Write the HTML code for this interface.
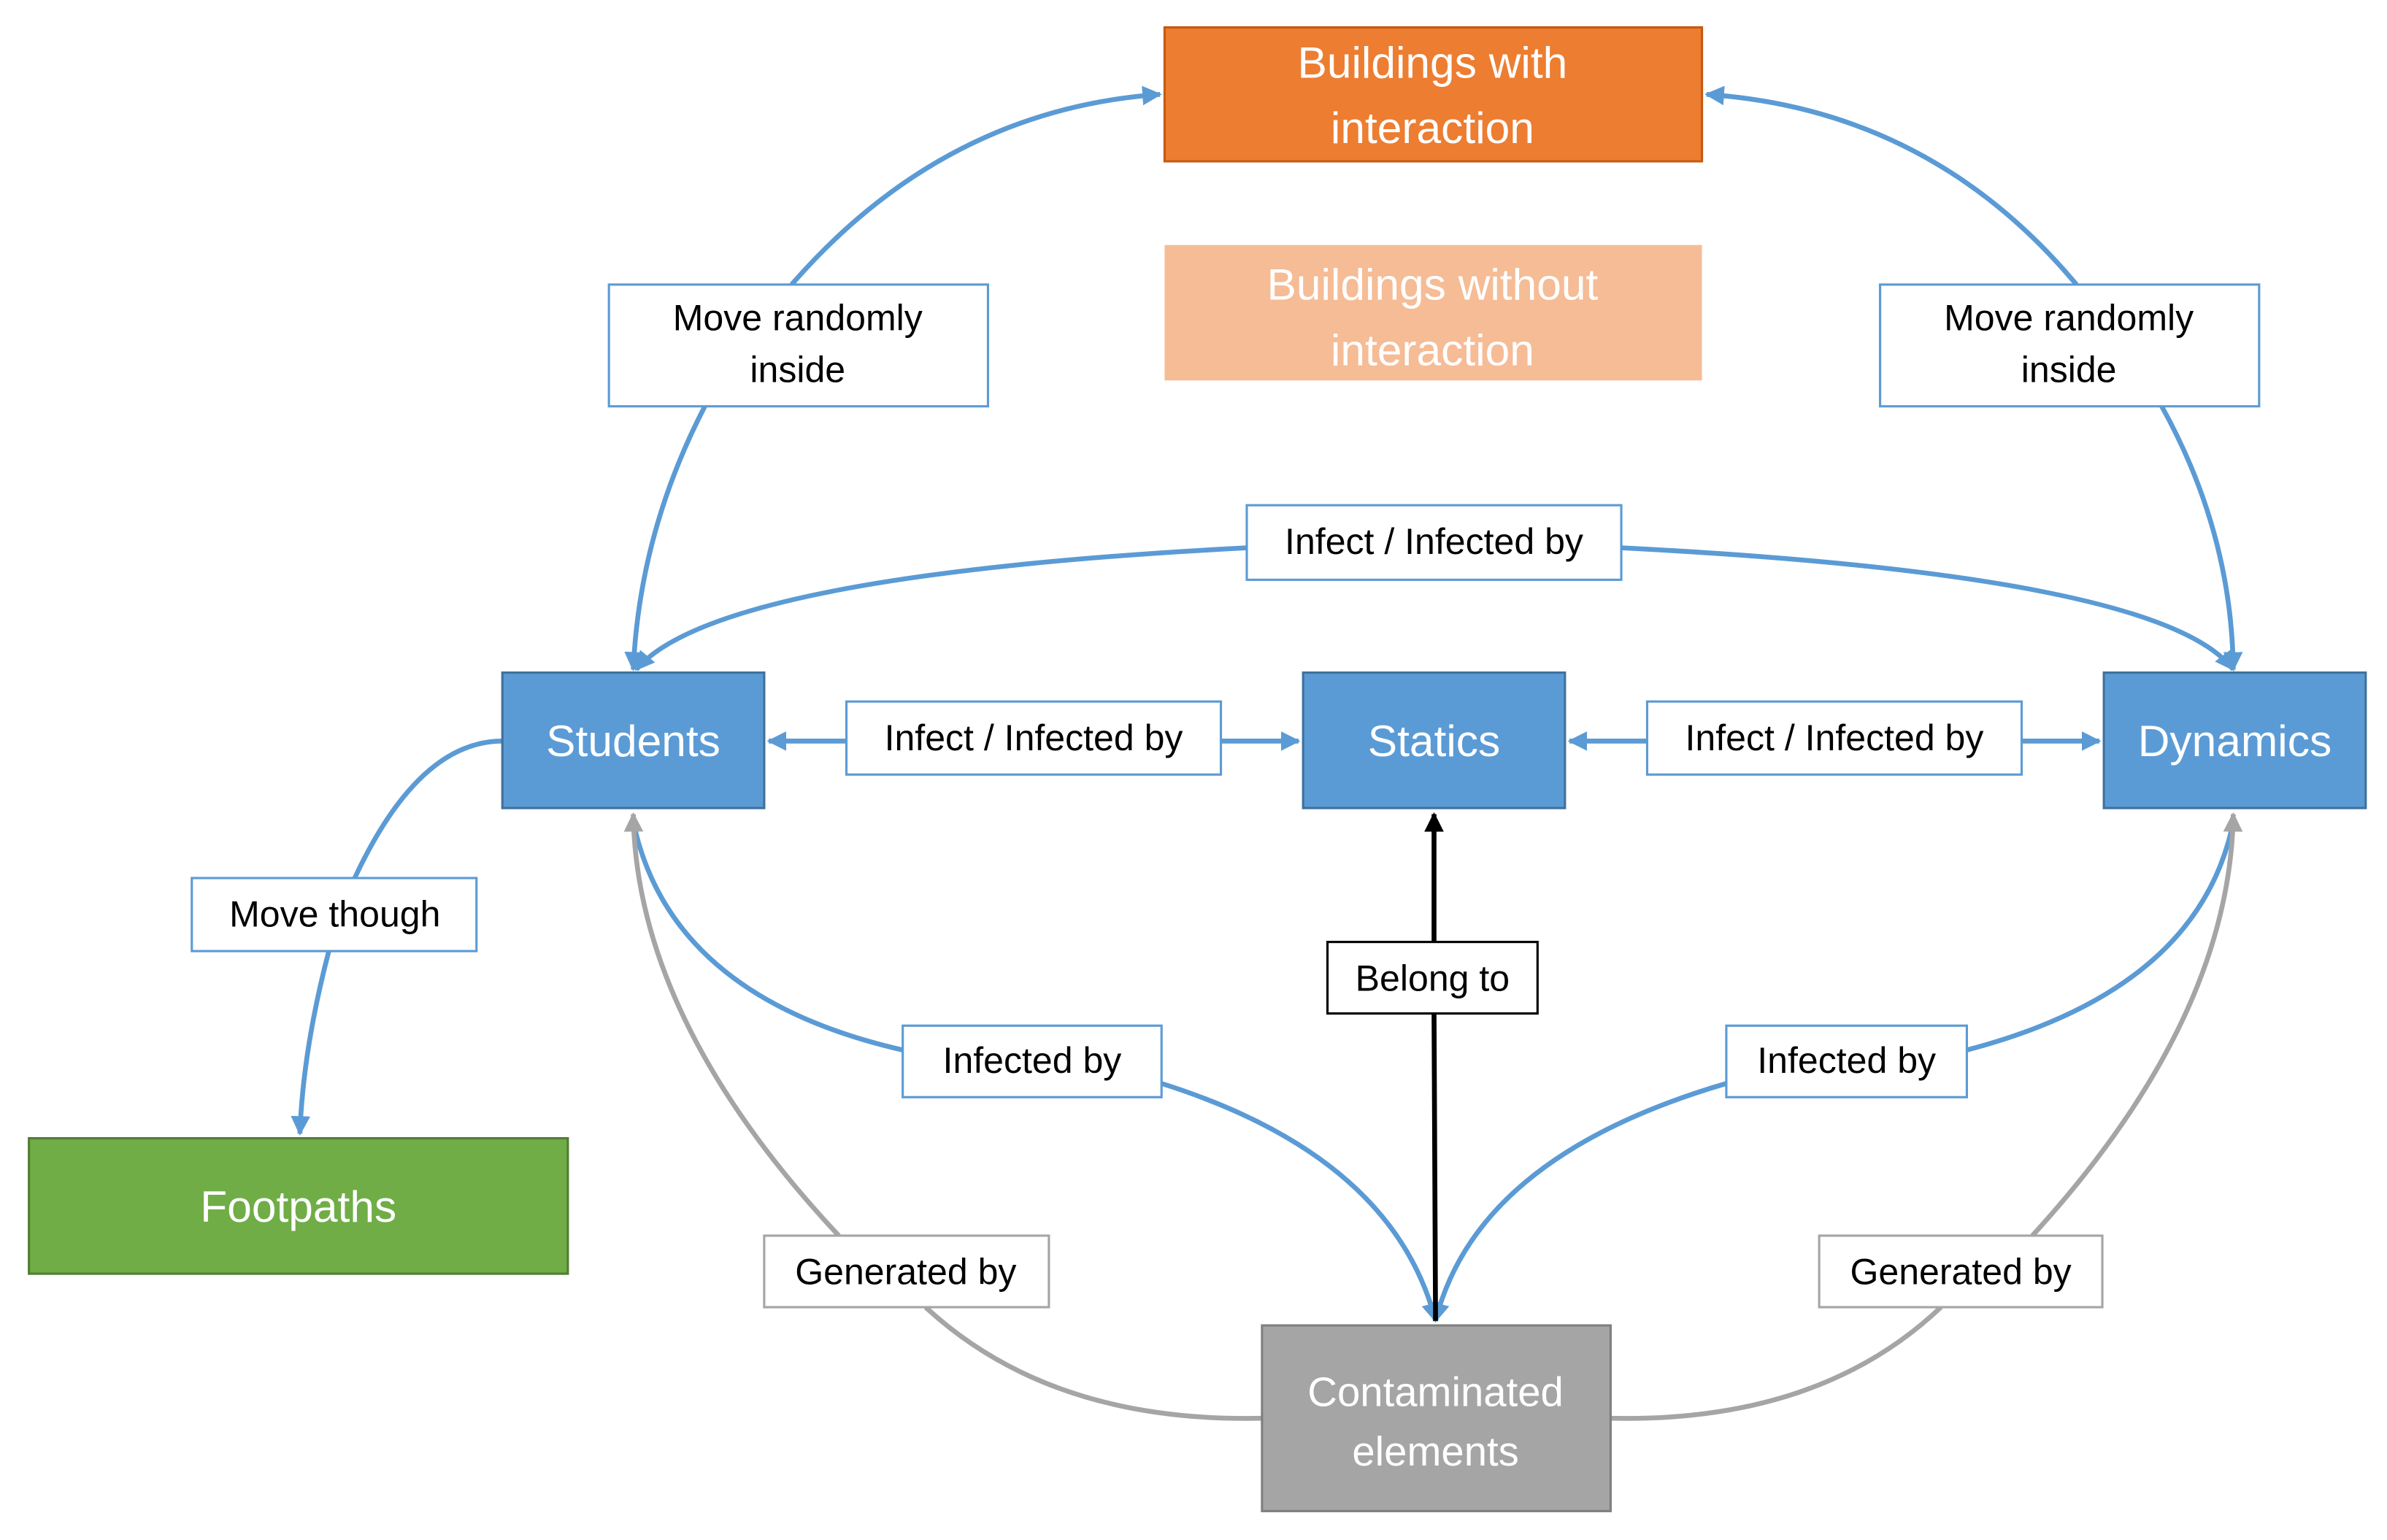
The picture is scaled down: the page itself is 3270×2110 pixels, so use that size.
<!DOCTYPE html>
<html><head><meta charset="utf-8">
<style>
html,body{margin:0;padding:0;background:#fff;}
svg{display:block;}
text{font-family:"Liberation Sans Narrow","Liberation Sans",sans-serif;}
</style></head>
<body>
<svg width="3270" height="2110" viewBox="0 0 1568 1012" preserveAspectRatio="none" xmlns="http://www.w3.org/2000/svg">
<defs>
<marker id="ab" viewBox="0 0 10 10" refX="9" refY="5" markerWidth="4" markerHeight="4" orient="auto"><path d="M0,0 L10,5 L0,10 z" fill="#5B9BD5"/></marker>
<marker id="ag" viewBox="0 0 10 10" refX="9" refY="5" markerWidth="4" markerHeight="4" orient="auto"><path d="M0,0 L10,5 L0,10 z" fill="#A5A5A5"/></marker>
<marker id="ak" viewBox="0 0 10 10" refX="9" refY="5" markerWidth="4" markerHeight="4" orient="auto"><path d="M0,0 L10,5 L0,10 z" fill="#000"/></marker>
</defs>
<g fill="none" stroke-width="3.2">
<!-- blue connectors -->
<g stroke="#5B9BD5">
<path d="M520,187 Q620,72 762,62" marker-end="url(#ab)"/>
<path d="M463,267 Q420,350 416,440" marker-end="url(#ab)"/>
<path d="M1364,187 Q1268,72 1121,62" marker-end="url(#ab)"/>
<path d="M1420,267 Q1466,350 1467,440" marker-end="url(#ab)"/>
<path d="M819,360 Q470,378 418,440" marker-end="url(#ab)"/>
<path d="M1065,360 Q1420,378 1467,440" marker-end="url(#ab)"/>
<path d="M556,487 L505,487" marker-end="url(#ab)"/>
<path d="M802,487 L853,487" marker-end="url(#ab)"/>
<path d="M1082,487 L1031,487" marker-end="url(#ab)"/>
<path d="M1328,487 L1379,487" marker-end="url(#ab)"/>
<path d="M330,487 Q275,487 233,577"/>
<path d="M216,625 Q199,690 197,745" marker-end="url(#ab)"/>
<path d="M416,540 Q440,655 593,690"/>
<path d="M763,712 Q915,760 943,868" marker-end="url(#ab)"/>
<path d="M1467,540 Q1445,650 1292,690"/>
<path d="M1134,712 Q970,760 943,868" marker-end="url(#ab)"/>
</g>
<!-- gray -->
<g stroke="#A5A5A5">
<path d="M829,932 Q690,935 608,859"/>
<path d="M551,812 Q418,670 416,535" marker-end="url(#ag)"/>
<path d="M1058,932 Q1195,935 1275,859"/>
<path d="M1335,812 Q1465,670 1467,535" marker-end="url(#ag)"/>
</g>
<path d="M942,619 L942,535" stroke="#000" marker-end="url(#ak)"/>
<path d="M942,666 L943,868" stroke="#000"/>
</g>

<!-- nodes -->
<rect x="765" y="18" width="353" height="88" fill="#ED7D31" stroke="#C55A11" stroke-width="1.5"/>
<rect x="765" y="161" width="353" height="89" fill="#F5BC96"/>
<rect x="330" y="442" width="172" height="89" fill="#5B9BD5" stroke="#41719C" stroke-width="1.5"/>
<rect x="856" y="442" width="172" height="89" fill="#5B9BD5" stroke="#41719C" stroke-width="1.5"/>
<rect x="1382" y="442" width="172" height="89" fill="#5B9BD5" stroke="#41719C" stroke-width="1.5"/>
<rect x="19" y="748" width="354" height="89" fill="#70AD47" stroke="#507E32" stroke-width="1.5"/>
<rect x="829" y="871" width="229" height="122" fill="#A5A5A5" stroke="#7F7F7F" stroke-width="1.5"/>

<g fill="#fff" font-size="29" text-anchor="middle">
<text x="941" y="51">Buildings with</text>
<text x="941" y="94">interaction</text>
<text x="941" y="197">Buildings without</text>
<text x="941" y="240">interaction</text>
<text x="416" y="497">Students</text>
<text x="942" y="497">Statics</text>
<text x="1468" y="497">Dynamics</text>
<text x="196" y="803">Footpaths</text>
<text x="943" y="924" font-size="27">Contaminated</text>
<text x="943" y="963" font-size="27">elements</text>
</g>

<!-- labels -->
<g fill="#fff" stroke-width="1.5">
<rect x="400" y="187" width="249" height="80" stroke="#5B9BD5"/>
<rect x="1235" y="187" width="249" height="80" stroke="#5B9BD5"/>
<rect x="819" y="332" width="246" height="49" stroke="#5B9BD5"/>
<rect x="556" y="461" width="246" height="48" stroke="#5B9BD5"/>
<rect x="1082" y="461" width="246" height="48" stroke="#5B9BD5"/>
<rect x="126" y="577" width="187" height="48" stroke="#5B9BD5"/>
<rect x="872" y="619" width="138" height="47" stroke="#000"/>
<rect x="593" y="674" width="170" height="47" stroke="#5B9BD5"/>
<rect x="1134" y="674" width="158" height="47" stroke="#5B9BD5"/>
<rect x="502" y="812" width="187" height="47" stroke="#A5A5A5"/>
<rect x="1195" y="812" width="186" height="47" stroke="#A5A5A5"/>
</g>
<g fill="#000" font-size="24" text-anchor="middle">
<text x="524" y="217">Move randomly</text>
<text x="524" y="251">inside</text>
<text x="1359" y="217">Move randomly</text>
<text x="1359" y="251">inside</text>
<text x="942" y="364">Infect / Infected by</text>
<text x="679" y="493">Infect / Infected by</text>
<text x="1205" y="493">Infect / Infected by</text>
<text x="220" y="609">Move though</text>
<text x="941" y="651">Belong to</text>
<text x="678" y="705">Infected by</text>
<text x="1213" y="705">Infected by</text>
<text x="595" y="844">Generated by</text>
<text x="1288" y="844">Generated by</text>
</g>
</svg>
</body></html>
